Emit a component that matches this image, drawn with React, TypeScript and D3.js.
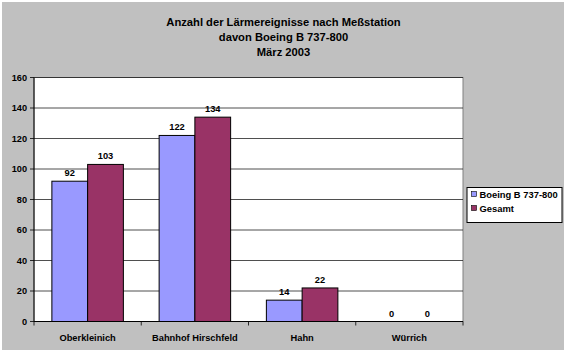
import React from "react";
import * as d3 from "d3";

const categories = ["Oberkleinich", "Bahnhof Hirschfeld", "Hahn", "Würrich"];
const seriesNames = ["Boeing B 737-800", "Gesamt"];
const boeing = [92, 122, 14, 0];
const gesamt = [103, 134, 22, 0];
const yTicks = [0, 20, 40, 60, 80, 100, 120, 140, 160];
const titleLines = ["Anzahl der Lärmereignisse nach Meßstation", "davon Boeing B 737-800", "März 2003"];
const colors = ["#9999FF", "#993366"];

const W = 567;
const H = 353;
const plot = { left: 34, right: 463, top: 77.5, bottom: 321.5 };
const font = "'Liberation Sans', Arial, sans-serif";

export default function App() {
  const x = d3.scaleBand<string>().domain(categories).range([plot.left, plot.right]);
  const inner = d3
    .scaleBand<string>()
    .domain(seriesNames)
    .range([x.bandwidth() / 6, (x.bandwidth() * 5) / 6]);
  const y = d3.scaleLinear().domain([0, 160]).range([plot.bottom, plot.top]);
  const series = [boeing, gesamt];

  return (
    <svg
      width={W}
      height={H}
      style={{ position: "absolute", left: 0, top: 0, background: "#ffffff" }}
      fontFamily={font}
    >
      <rect x={2} y={2} width={562} height={348} fill="#C0C0C0" />
      {titleLines.map((t, i) => (
        <text
          key={i}
          x={283.5}
          y={25.7 + i * 15.3}
          textAnchor="middle"
          fontSize={11.2}
          fontWeight="bold"
          fill="#000"
        >
          {t}
        </text>
      ))}
      <rect
        x={plot.left}
        y={plot.top}
        width={plot.right - plot.left}
        height={plot.bottom - plot.top}
        fill="#ffffff"
        stroke="#808080"
        strokeWidth={1}
      />
      {yTicks.map((v) => (
        <g key={v}>
          {v > 0 && (
            <line x1={plot.left} x2={plot.right} y1={y(v)} y2={y(v)} stroke="#222" strokeWidth={0.8} />
          )}
          <line x1={plot.left - 4} x2={plot.left} y1={y(v)} y2={y(v)} stroke="#000" strokeWidth={0.8} />
          <text x={27} y={y(v) + 3.3} textAnchor="end" fontSize={9.2} fontWeight="bold" fill="#000">
            {v}
          </text>
        </g>
      ))}
      {categories.map((c, ci) => (
        <g key={c}>
          {series.map((s, si) => {
            const bx = (x(c) as number) + (inner(seriesNames[si]) as number);
            const bw = inner.bandwidth();
            const top = y(s[ci]);
            return (
              <g key={si}>
                {s[ci] > 0 && (
                  <rect x={bx} y={top} width={bw} height={plot.bottom - top} fill={colors[si]} stroke="#000" strokeWidth={1} />
                )}
                <text x={bx + bw / 2} y={top - 5} textAnchor="middle" fontSize={9.3} fontWeight="bold" fill="#000">
                  {s[ci]}
                </text>
              </g>
            );
          })}
          <text
            x={(x(c) as number) + x.bandwidth() / 2}
            y={341}
            textAnchor="middle"
            fontSize={9.3}
            fontWeight="bold"
            fill="#000"
          >
            {c}
          </text>
        </g>
      ))}
      <line x1={plot.left} x2={plot.left} y1={plot.top} y2={plot.bottom} stroke="#000" strokeWidth={1} />
      <line x1={plot.left} x2={plot.right} y1={plot.bottom} y2={plot.bottom} stroke="#000" strokeWidth={1} />
      {[...categories.map((c) => x(c) as number), plot.right].map((tx, i) => (
        <line key={i} x1={tx} x2={tx} y1={plot.bottom} y2={plot.bottom + 4} stroke="#000" strokeWidth={0.8} />
      ))}
      <g>
        <rect x={467} y={187.5} width={95} height={35} fill="#ffffff" stroke="#000" strokeWidth={1} />
        {seriesNames.map((n, i) => (
          <g key={n}>
            <rect x={471.5} y={191.5 + i * 14} width={5} height={5} fill={colors[i]} stroke="#000" strokeWidth={0.6} />
            <text x={479.5} y={197.5 + i * 14} fontSize={9.4} fontWeight="bold" fill="#000">
              {n}
            </text>
          </g>
        ))}
      </g>
    </svg>
  );
}
